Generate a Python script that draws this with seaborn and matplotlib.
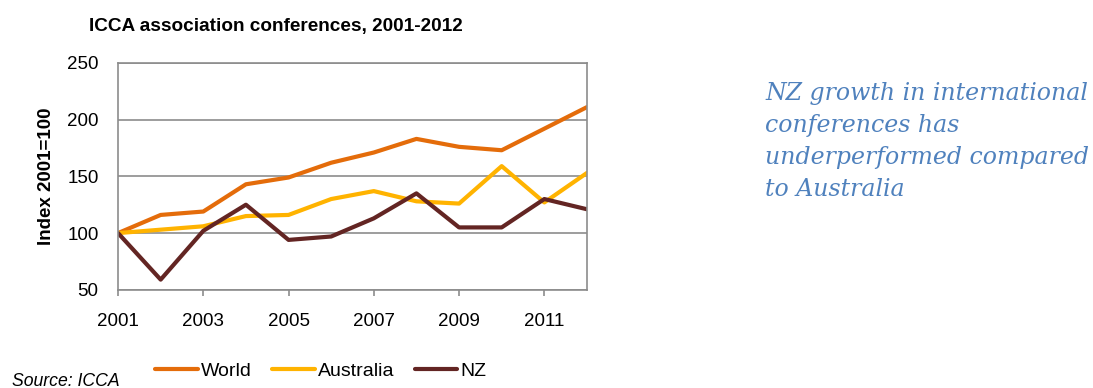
import matplotlib
matplotlib.use("Agg")
import matplotlib.pyplot as plt
import seaborn as sns
import pandas as pd

years = list(range(2001, 2013))
world = [100, 116, 119, 143, 149, 162, 171, 183, 176, 173, 192, 211]
australia = [100, 103, 106, 115, 116, 130, 137, 128, 126, 159, 127, 153]
nz = [100, 59, 102, 125, 94, 97, 113, 135, 105, 105, 130, 121]
series_names = ["World", "Australia", "NZ"]
series_colors = ["#E46C0A", "#FFB300", "#632523"]
y_ticks = [50, 100, 150, 200, 250]
x_ticks = [2001, 2003, 2005, 2007, 2009, 2011]

df = pd.DataFrame({"Year": years, "World": world, "Australia": australia, "NZ": nz})
long = df.melt(id_vars="Year", var_name="Series", value_name="Index")

sns.set_theme(style="white")
plt.rcParams["font.family"] = ["Liberation Sans", "DejaVu Sans"]
plt.rcParams["text.color"] = "black"
plt.rcParams["xtick.color"] = "black"
plt.rcParams["ytick.color"] = "black"
plt.rcParams["axes.labelcolor"] = "black"

fig = plt.figure(figsize=(10.93, 3.88), dpi=100)
ax = fig.add_axes([0.108, 0.253, 0.429, 0.585])

sns.lineplot(data=long, x="Year", y="Index", hue="Series", hue_order=series_names,
             palette=series_colors, linewidth=3, ax=ax, legend=False)

ax.set_xlim(2001, 2012)
ax.set_ylim(50, 250)
ax.set_yticks(y_ticks)
ax.set_xticks(x_ticks)
ax.set_xticklabels([str(x) for x in x_ticks], fontsize=13.5)
ax.set_yticklabels([str(y) for y in y_ticks], fontsize=13.5)
ax.yaxis.grid(True, color="#8C8C8C", linewidth=1.2)
ax.set_axisbelow(True)
for sp in ax.spines.values():
    sp.set_color("#8C8C8C")
    sp.set_linewidth(1.2)
ax.tick_params(axis="x", bottom=True, direction="out", length=4, color="#8C8C8C",
               width=1.2, pad=13)
ax.tick_params(axis="y", left=False, length=0, pad=14)
ax.set_xlabel("")
ax.set_ylabel("Index 2001=100", fontsize=13.5, fontweight="bold", labelpad=9)

fig.text(0.2525, 0.932, "ICCA association conferences, 2001-2012", ha="center",
         va="center", fontsize=13.7, fontweight="bold")

handles = [plt.Line2D([], [], color=c, linewidth=3) for c in series_colors]
fig.legend(handles, series_names, loc="center left", bbox_to_anchor=(155 / 1093, 1 - 371 / 388),
           ncol=3, frameon=False, fontsize=14, handlelength=2.2, handletextpad=0.15,
           columnspacing=1.05, borderaxespad=0, borderpad=0)

fig.text(0.011, 1 - 386 / 388, "Source: ICCA", ha="left", va="baseline",
         fontsize=12.7, style="italic")

fig.text(765 / 1093, 1 - 82 / 388,
         "NZ growth in international\nconferences has\nunderperformed compared\nto Australia",
         ha="left", va="top", fontsize=17, style="italic", color="#4F81BD",
         family=["DejaVu Serif"], linespacing=1.5)

fig.savefig("out.png", dpi=100)
